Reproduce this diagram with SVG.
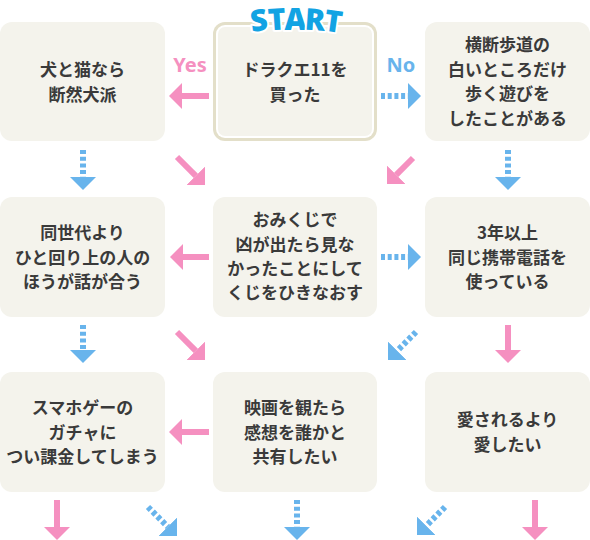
<svg xmlns="http://www.w3.org/2000/svg" width="590" height="540" viewBox="0 0 590 540">
<style>
.box{fill:#f4f3ec}
.t{font-family:"Noto Sans CJK JP","Noto Sans",sans-serif;font-size:17px;font-weight:700;fill:#3a3a3a;text-anchor:middle}
.pk{stroke:#f590c0;stroke-width:6;fill:none}
.bl{stroke:#68b4ec;stroke-width:6;fill:none;stroke-dasharray:4 2.7}
.lbl{font-family:"Noto Sans","DejaVu Sans",sans-serif;font-size:20px;font-weight:700;text-anchor:middle}
</style>
<defs>
<marker id="hp" markerUnits="userSpaceOnUse" markerWidth="13" markerHeight="26" viewBox="0 0 13 26" refX="0" refY="13" orient="auto">
<path d="M0 0 L13 13 L0 26 Z" fill="#f590c0"/>
</marker>
<marker id="hb" markerUnits="userSpaceOnUse" markerWidth="13" markerHeight="26" viewBox="0 0 13 26" refX="0" refY="13" orient="auto">
<path d="M0 0 L13 13 L0 26 Z" fill="#68b4ec"/>
</marker>
</defs>
<rect width="590" height="540" fill="#ffffff"/>

<g id="n1">
<rect class="box" x="0" y="22" width="165" height="119" rx="12"/>
<text class="t" x="82.5" y="76">犬と猫なら</text>
<text class="t" x="82.5" y="101">断然犬派</text>
</g>
<g id="start">
<rect x="213" y="22" width="164" height="119" rx="12" fill="#e3dfc9"/>
<rect x="216" y="25" width="158" height="113" rx="9" fill="#ffffff"/>
<rect class="box" x="218" y="27" width="154" height="109" rx="7"/>
<text class="t" x="295" y="76">ドラクエ11を</text>
<text class="t" x="295" y="101">買った</text>
<text x="260.5 277.5 295.5 314.5 332" y="32 30.5 29.5 29.5 30.5" rotate="-8 -4 0 4 8" font-family="'Noto Sans','DejaVu Sans',sans-serif" font-size="30" font-weight="900" fill="#12a3e3" stroke="#ffffff" stroke-width="4" stroke-linejoin="round" paint-order="stroke" text-anchor="middle">START</text>
</g>
<g id="n3">
<rect class="box" x="425" y="22" width="165" height="119" rx="12"/>
<text class="t" x="507.5" y="51">横断歩道の</text>
<text class="t" x="507.5" y="76">白いところだけ</text>
<text class="t" x="507.5" y="100">歩く遊びを</text>
<text class="t" x="507.5" y="125">したことがある</text>
</g>

<g id="n4">
<rect class="box" x="0" y="197" width="165" height="120" rx="12"/>
<text class="t" x="82.5" y="239">同世代より</text>
<text class="t" x="82.5" y="264">ひと回り上の人の</text>
<text class="t" x="82.5" y="288">ほうが話が合う</text>
</g>
<g id="n5">
<rect class="box" x="213" y="197" width="164" height="120" rx="12"/>
<text class="t" x="295" y="226">おみくじで</text>
<text class="t" x="295" y="251">凶が出たら見な</text>
<text class="t" x="295" y="275">かったことにして</text>
<text class="t" x="295" y="299">くじをひきなおす</text>
</g>
<g id="n6">
<rect class="box" x="425" y="197" width="165" height="120" rx="12"/>
<text class="t" x="507.5" y="239">3年以上</text>
<text class="t" x="507.5" y="264">同じ携帯電話を</text>
<text class="t" x="507.5" y="288">使っている</text>
</g>

<g id="n7">
<rect class="box" x="0" y="372" width="165" height="120" rx="12"/>
<text class="t" x="82.5" y="414">スマホゲーの</text>
<text class="t" x="82.5" y="439">ガチャに</text>
<text class="t" x="82.5" y="463">つい課金してしまう</text>
</g>
<g id="n8">
<rect class="box" x="213" y="372" width="164" height="120" rx="12"/>
<text class="t" x="295" y="414">映画を観たら</text>
<text class="t" x="295" y="439">感想を誰かと</text>
<text class="t" x="295" y="463">共有したい</text>
</g>
<g id="n9">
<rect class="box" x="425" y="372" width="165" height="120" rx="12"/>
<text class="t" x="507.5" y="426">愛されるより</text>
<text class="t" x="507.5" y="451">愛したい</text>
</g>

<g id="connectors">
<text class="lbl" x="190" y="72" fill="#f590c0">Yes</text>
<text class="lbl" x="401" y="72" fill="#68b4ec">No</text>
<line class="pk" x1="209" y1="96" x2="182" y2="96" marker-end="url(#hp)"/>
<line class="bl" x1="381" y1="96" x2="408" y2="96" marker-end="url(#hb)"/>

<line class="bl" x1="83" y1="150" x2="83" y2="177" marker-end="url(#hb)"/>
<line class="pk" x1="177" y1="157" x2="195.8" y2="175.8" marker-end="url(#hp)"/>
<line class="pk" x1="413" y1="158" x2="396.2" y2="174.8" marker-end="url(#hp)"/>
<line class="bl" x1="508" y1="150" x2="508" y2="177" marker-end="url(#hb)"/>

<line class="pk" x1="209" y1="257" x2="183" y2="257" marker-end="url(#hp)"/>
<line class="bl" x1="381" y1="257" x2="408" y2="257" marker-end="url(#hb)"/>

<line class="bl" x1="83" y1="325" x2="83" y2="350" marker-end="url(#hb)"/>
<line class="pk" x1="177" y1="332" x2="195.8" y2="350.8" marker-end="url(#hp)"/>
<line class="bl" x1="416" y1="332" x2="397.2" y2="350.8" marker-end="url(#hb)"/>
<line class="pk" x1="508" y1="325" x2="508" y2="350" marker-end="url(#hp)"/>

<line class="pk" x1="209" y1="432" x2="182" y2="432" marker-end="url(#hp)"/>

<line class="pk" x1="57" y1="500" x2="57" y2="527" marker-end="url(#hp)"/>
<line class="bl" x1="148" y1="507" x2="167.8" y2="526.8" marker-end="url(#hb)"/>
<line class="bl" x1="297" y1="500" x2="297" y2="527" marker-end="url(#hb)"/>
<line class="bl" x1="445" y1="507" x2="426.2" y2="525.8" marker-end="url(#hb)"/>
<line class="pk" x1="535" y1="500" x2="535" y2="527" marker-end="url(#hp)"/>
</g>
</svg>
